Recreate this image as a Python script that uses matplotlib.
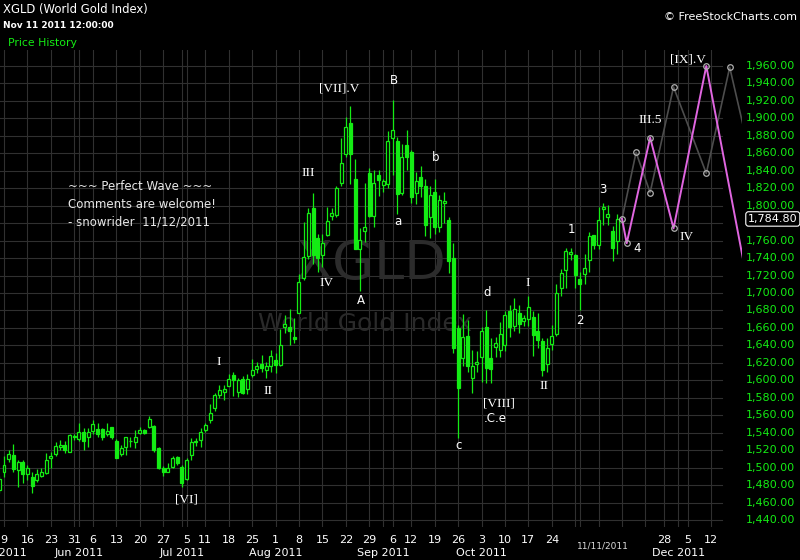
import numpy as np
import pandas as pd
import matplotlib
matplotlib.use('Agg')
import matplotlib.pyplot as plt
from matplotlib.transforms import blended_transform_factory as btf

# ---------------- data ----------------
first_day = '2011-05-06'
last_day = '2011-12-30'
holidays = ['2011-05-30', '2011-07-04', '2011-09-05', '2011-11-24']

open_ = [1474, 1495, 1510, 1515, 1497, 1507, 1493, 1489, 1486, 1490,
         1494, 1511, 1516, 1524, 1526, 1518, 1535, 1533, 1541, 1535,
         1542, 1544, 1544, 1539, 1546, 1531, 1516, 1524, 1530, 1529,
         1540, 1543, 1547, 1548, 1522, 1500, 1495, 1501, 1512, 1501,
         1487, 1514, 1529, 1532, 1543, 1554, 1568, 1583, 1587, 1593,
         1606, 1587, 1601, 1590, 1606, 1613, 1619, 1612, 1616, 1623,
         1617, 1661, 1661, 1650, 1677, 1717, 1742, 1797, 1763, 1744,
         1766, 1788, 1789, 1826, 1859, 1895, 1830, 1750, 1771, 1838,
         1788, 1835, 1824, 1825, 1878, 1874, 1814, 1870, 1861, 1815,
         1833, 1822, 1787, 1816, 1776, 1803, 1784, 1740, 1660, 1626,
         1651, 1603, 1619, 1627, 1661, 1626, 1638, 1635, 1640, 1679,
         1662, 1677, 1668, 1670, 1673, 1657, 1645, 1619, 1642, 1653,
         1706, 1726, 1745, 1744, 1716, 1722, 1738, 1766, 1755, 1796,
         1787, 1771, 1759]
high = [1490, 1513, 1520, 1527, 1509, 1509, 1503, 1495, 1498, 1499,
        1517, 1518, 1529, 1532, 1530, 1539, 1539, 1551, 1545, 1545,
        1555, 1551, 1545, 1551, 1547, 1533, 1526, 1535, 1535, 1543,
        1547, 1544, 1559, 1549, 1524, 1502, 1505, 1513, 1513, 1503,
        1511, 1534, 1534, 1545, 1551, 1573, 1586, 1595, 1595, 1607,
        1609, 1603, 1605, 1607, 1624, 1621, 1629, 1621, 1635, 1631,
        1659, 1675, 1682, 1671, 1722, 1781, 1797, 1814, 1768, 1768,
        1799, 1797, 1823, 1878, 1901, 1914, 1854, 1774, 1826, 1843,
        1841, 1841, 1831, 1886, 1921, 1879, 1871, 1887, 1864, 1839,
        1845, 1831, 1822, 1830, 1812, 1816, 1787, 1757, 1663, 1676,
        1669, 1635, 1633, 1661, 1681, 1648, 1650, 1667, 1679, 1686,
        1694, 1686, 1675, 1697, 1679, 1677, 1648, 1648, 1663, 1710,
        1728, 1751, 1752, 1745, 1724, 1745, 1770, 1766, 1799, 1803,
        1801, 1777, 1791]
low = [1471, 1489, 1507, 1495, 1478, 1482, 1486, 1471, 1484, 1489,
       1493, 1500, 1513, 1520, 1517, 1518, 1532, 1530, 1520, 1524,
       1539, 1535, 1532, 1536, 1533, 1511, 1513, 1514, 1524, 1522,
       1539, 1538, 1545, 1518, 1498, 1490, 1495, 1500, 1503, 1478,
       1486, 1509, 1525, 1524, 1541, 1551, 1565, 1580, 1577, 1593,
       1582, 1581, 1584, 1584, 1604, 1608, 1609, 1603, 1610, 1608,
       1616, 1654, 1640, 1643, 1677, 1715, 1739, 1733, 1724, 1730,
       1765, 1784, 1787, 1822, 1856, 1825, 1750, 1702, 1758, 1787,
       1776, 1811, 1816, 1820, 1835, 1791, 1812, 1841, 1803, 1802,
       1810, 1765, 1763, 1768, 1770, 1780, 1723, 1631, 1534, 1616,
       1610, 1585, 1610, 1598, 1597, 1597, 1627, 1627, 1633, 1650,
       1656, 1654, 1662, 1662, 1628, 1637, 1605, 1610, 1635, 1651,
       1697, 1706, 1738, 1706, 1681, 1710, 1724, 1750, 1750, 1778,
       1778, 1737, 1745]
close = [1487, 1503, 1516, 1498, 1507, 1493, 1500, 1479, 1493, 1495,
         1509, 1513, 1525, 1526, 1520, 1537, 1536, 1541, 1530, 1541,
         1550, 1539, 1535, 1542, 1535, 1511, 1522, 1535, 1531, 1535,
         1543, 1540, 1556, 1520, 1499, 1495, 1500, 1511, 1505, 1482,
         1509, 1529, 1530, 1541, 1549, 1562, 1583, 1589, 1590, 1602,
         1600, 1600, 1586, 1601, 1612, 1616, 1614, 1616, 1628, 1617,
         1641, 1664, 1657, 1647, 1713, 1741, 1792, 1744, 1740, 1757,
         1783, 1792, 1820, 1849, 1890, 1859, 1750, 1761, 1776, 1788,
         1826, 1829, 1828, 1874, 1887, 1813, 1856, 1856, 1810, 1828,
         1823, 1778, 1812, 1776, 1807, 1805, 1737, 1637, 1591, 1650,
         1616, 1616, 1621, 1656, 1614, 1613, 1643, 1653, 1675, 1661,
         1682, 1664, 1671, 1684, 1652, 1646, 1612, 1637, 1651, 1700,
         1723, 1748, 1747, 1721, 1710, 1729, 1765, 1755, 1784, 1798,
         1790, 1752, 1784.8]

# projections (dates and prices)
gray_dates = ['2011-11-14', '2011-11-17', '2011-11-22', '2011-11-30',
              '2011-12-09', '2011-12-16', '2011-12-23']
gray_prices = [1785, 1861, 1815, 1936, 1837, 1958.5, 1842]
pink_dates = ['2011-11-14', '2011-11-15', '2011-11-22', '2011-11-30',
              '2011-12-09', '2011-12-23']
pink_prices = [1785, 1757, 1878, 1774, 1960, 1678]

# axis labels
week_labels_hidden = ['2011-10-31', '2011-11-07', '2011-11-14', '2011-11-21']
month_labels = ['Jun 2011', 'Jul 2011', 'Aug 2011', 'Sep 2011', 'Oct 2011', 'Dec 2011']
month_starts = ['2011-06-01', '2011-07-01', '2011-08-01', '2011-09-01', '2011-10-03', '2011-12-01']
price_ticks = list(range(1440, 1961, 20))
last_price = 1784.80

# wave labels: text, date index, price, serif?
wave_text = ['I', 'II', '[VI]', 'III', 'IV', '[VII].V', 'A', 'B', 'a', 'b', 'c', 'd',
             '[VIII]', '.C.e', 'I', 'II', '1', '2', '3', '4', 'III.5', 'IV', '[IX].V']
wave_x = [45.9, 56.4, 38.9, 64.9, 68.8, 71.5, 76.2, 83.3, 84.2, 92.1, 97.0, 103.2,
          105.7, 104.9, 111.9, 115.3, 121.1, 123.0, 127.9, 135.2, 138.0, 145.7, 146.1]
wave_y = [1621, 1588, 1463, 1837, 1711, 1934, 1691, 1943, 1782, 1855, 1525, 1701,
          1574, 1556, 1711, 1593, 1773, 1669, 1818, 1751, 1898, 1764, 1967]
wave_serif = [True, True, True, True, True, True, False, False, False, False, False, False,
              True, False, True, True, False, False, False, False, True, True, True]

# ---------------- trading-day index ----------------
days = pd.bdate_range(first_day, last_day)
days = days[~days.isin(pd.to_datetime(holidays))]
day_idx = {d.strftime('%Y-%m-%d'): i - 1 for i, d in enumerate(days)}  # May 9 = 0

def di(s):
    return day_idx[s]

GREEN = '#14ec14'
GRID = '#303030'
W, H = 800, 560
L, R, T, B = 0, 742, 50, 527

fig = plt.figure(figsize=(8, 5.6), dpi=100, facecolor='black')
ax = fig.add_axes([L / W, 1 - B / H, (R - L) / W, (B - T) / H])
ax.set_facecolor('black')
px_per_day = 4.682
x0_px = 4.0
ax.set_xlim((L - x0_px) / px_per_day, (R - x0_px) / px_per_day)
ax.set_ylim(1432.0, 1978.3)
ax.axis('off')

grid_end = (722 - x0_px) / px_per_day

# horizontal grid
for p in price_ticks:
    ax.plot([ax.get_xlim()[0], grid_end], [p, p], color=GRID, lw=0.8, zorder=0)

# vertical grid: week starts & month starts
dser = pd.Series(days)
week_first = dser.groupby(dser.dt.to_period('W')).first()
week_first = [d for d in week_first if pd.Timestamp('2011-05-09') <= d <= pd.Timestamp('2011-12-12')]
for d in week_first:
    ax.axvline(di(d.strftime('%Y-%m-%d')), color=GRID, lw=0.8, zorder=0)
for m in ['2011-06-01', '2011-07-01', '2011-09-01', '2011-11-01', '2011-12-01']:
    ax.axvline(di(m), color=GRID, lw=0.8, zorder=0)

# watermark
ax.text(78.4, 1733, 'XGLD', color='#2c2c2c', fontsize=39,
        ha='center', va='center', zorder=0.5)
ax.text(77.0, 1665, 'World Gold Index', color='#2a2a2a', fontsize=18,
        ha='center', va='center', zorder=0.5)

# candles
o = np.array(open_, float); h = np.array(high, float)
lo = np.array(low, float); c = np.array(close, float)
x = np.arange(len(o)) - 1
ax.vlines(x, lo, h, color=GREEN, lw=0.9, zorder=2)
up = c >= o
faces = ['black' if u else GREEN for u in up]
ax.bar(x, np.maximum(np.abs(c - o), 0.6), bottom=np.minimum(o, c), width=0.64,
       color=faces, edgecolor=GREEN, linewidth=0.9, zorder=3)

# projections
gx = [di(d) for d in gray_dates]
px_ = [di(d) for d in pink_dates]
ax.plot(gx, gray_prices, color='#4d4d4d', lw=1.2, zorder=4)
ax.plot(px_, pink_prices, color='#e066e0', lw=1.4, zorder=5)
ax.plot(gx[:-1], gray_prices[:-1], ls='none', marker='o', ms=4, mfc='none',
        mec='#b0b0b0', mew=0.9, zorder=6)
ax.plot(px_[1:-1], pink_prices[1:-1], ls='none', marker='o', ms=4, mfc='none',
        mec='#b0b0b0', mew=0.9, zorder=6)

# wave labels
for t, xx, yy, s in zip(wave_text, wave_x, wave_y, wave_serif):
    if s:
        ax.text(xx, yy, t, color='white', fontsize=9.5, family='Liberation Serif',
                ha='center', va='center', zorder=7)
    else:
        ax.text(xx, yy, t, color='white', fontsize=8.5, family='DejaVu Sans',
                ha='center', va='center', zorder=7)

# comment text
for i, line in enumerate(['~~~ Perfect Wave ~~~', 'Comments are welcome!',
                          '- snowrider  11/12/2011']):
    fig.text(68 / W, 1 - (187 + 17.5 * i) / H, line, color='#e8e8e8', fontsize=8.5,
             ha='left', va='center')

# header
fig.text(3 / W, 1 - 9 / H, 'XGLD (World Gold Index)', color='white', fontsize=8.4, va='center')
fig.text(3 / W, 1 - 25 / H, 'Nov 11 2011 12:00:00', color='white', fontsize=6.5,
         fontweight='bold', va='center')
fig.text(8 / W, 1 - 43 / H, 'Price History', color=GREEN, fontsize=7.8, va='center')
fig.text(797 / W, 1 - 17 / H, '\u00a9 FreeStockCharts.com', color='white', fontsize=8,
         ha='right', va='center')

# right price axis
ytr = btf(fig.transFigure, ax.transData)
for p in price_ticks:
    if p == 1780:
        continue
    fig.text(746 / W, p, f'{p:,.2f}', transform=ytr, color=GREEN, fontsize=8,
             ha='left', va='center')
fig.text(748 / W, last_price, f'{last_price:,.2f}', transform=ytr, color='white',
         fontsize=8, ha='left', va='center',
         bbox=dict(boxstyle='round,pad=0.2,rounding_size=0.25', fc='black', ec='white', lw=0.8))

# bottom date axis
xtr = btf(ax.transData, fig.transFigure)
for d in week_first:
    s = d.strftime('%Y-%m-%d')
    if s in week_labels_hidden:
        continue
    fig.text(di(s), 1 - 540 / H, str(d.day), transform=xtr, color='white', fontsize=8,
             ha='center', va='center')
for lab, s in zip(month_labels, month_starts):
    fig.text(di(s), 1 - 553 / H, lab, transform=xtr, color='white', fontsize=8,
             ha='center', va='center')
fig.text(27 / W, 1 - 553 / H, 'May 2011', color='white', fontsize=8, ha='right', va='center')
fig.text(603 / W, 1 - 546 / H, '11/11/2011', color='#dddddd', fontsize=6.5,
         ha='center', va='center')

fig.savefig('out.png', dpi=100, facecolor='black')
